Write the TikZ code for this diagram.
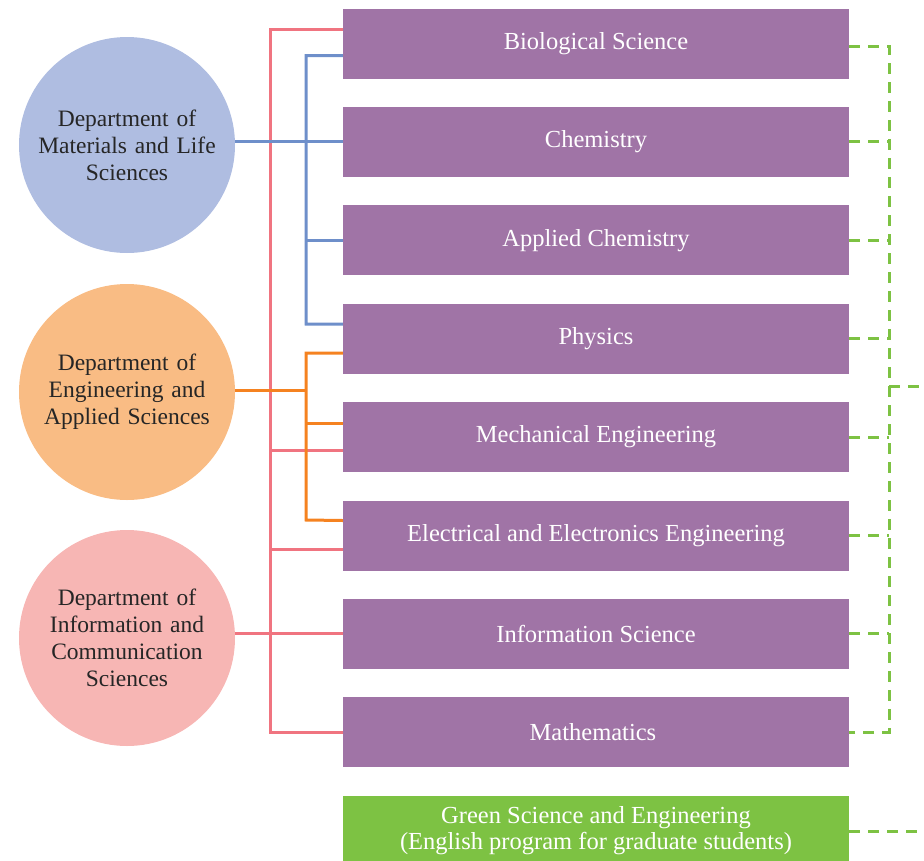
\documentclass[tikz,border=0pt]{standalone}
\usepackage{fontspec}
\setmainfont{Liberation Serif}
\definecolor{boxpurple}{HTML}{A074A6}
\definecolor{boxgreen}{HTML}{7DC243}
\definecolor{circblue}{HTML}{AFBDE1}
\definecolor{circorange}{HTML}{F9BC84}
\definecolor{circpink}{HTML}{F7B6B4}
\definecolor{lineblue}{HTML}{6E8FCA}
\definecolor{lineorange}{HTML}{F58220}
\definecolor{linepink}{HTML}{F07480}
\tikzset{
  deptbox/.style={fill=boxpurple, text=white, minimum width=506pt, minimum height=70pt,
    inner sep=0pt, font=\fontsize{24.5}{26}\selectfont, align=center},
  faculty/.style={circle, minimum size=216pt, inner sep=0pt, text width=184pt,
    align=center, text=black!85, font=\fontsize{23.5}{27}\selectfont},
  conn/.style={line width=3pt},
  greendash/.style={line width=3pt, boxgreen, dash pattern=on 11pt off 8pt}
}
\begin{document}
\begin{tikzpicture}[x=1pt, y=-1pt]
        \useasboundingbox (0,0) rectangle (924,860);

        % Abteilungen
        \foreach \i/\name/\txt in {
            0/bio/Biological Science,
            1/chem/Chemistry,
            2/achem/Applied Chemistry,
            3/phys/Physics,
            4/mech/Mechanical Engineering,
            5/elec/Electrical and Electronics Engineering,
            6/info/Information Science,
            7/math/Mathematics
            } {
            \node[deptbox] (\name) at (596, 43.5+98.4*\i) {\txt};
        }
        \node[deptbox, fill=boxgreen] (green) at (596, 831)
            {Green Science and Engineering\\(English program for graduate students)};

        % Fakultaeten
        \node[faculty, fill=circblue] (matsci) at (127, 145)
            {Department of\\Materials and Life\\Sciences};
        \node[faculty, fill=circorange] (engsci) at (127, 392)
            {Department of\\Engineering and\\Applied Sciences};
        \node[faculty, fill=circpink] (infsci) at (127, 638)
            {Department of\\Information and\\Communication\\Sciences};

        \coordinate (pinkbus) at (270, 0);
        \coordinate (colbus) at (306, 0);
        \coordinate (greenbus) at (889, 0);
        \coordinate (outlet) at (924, 386);

        % rot
        \draw[conn, linepink] ([yshift=14pt]bio.west) -| (pinkbus |- math.west) -- (math.west);
        \draw[conn, linepink] ([yshift=-13.5pt]mech.west -| pinkbus) -- ([yshift=-13.5pt]mech.west);
        \draw[conn, linepink] ([yshift=-14pt]elec.west -| pinkbus) -- ([yshift=-14pt]elec.west);
        \draw[conn, linepink] (infsci.east |- info.west) -- (info.west);

        % blau
        \draw[conn, lineblue] ([yshift=-12pt]bio.west) -| (colbus |- 0,324) -- ([yshift=14.5pt]phys.west);
        \draw[conn, lineblue] (matsci.east |- chem.west) -- (chem.west);
        \draw[conn, lineblue] (achem.west -| colbus) -- (achem.west);

        % orange
        \draw[conn, lineorange] ([yshift=-14.5pt]phys.west) -| (colbus |- 0,520) -- ([yshift=15pt]elec.west);
        \draw[conn, lineorange] (engsci.east |- 0,390) -- (colbus |- 0,390);
        \draw[conn, lineorange] ([yshift=13.5pt]mech.west -| colbus) -- ([yshift=13.5pt]mech.west);

        % gruen gestrichelt
        \draw[greendash] ([yshift=-2.5pt]bio.east) -| (greenbus |- math.east) -- (math.east);
        \foreach \n in {chem, achem, phys, mech, elec, info} {
            \draw[greendash] (\n.east) -- (\n.east -| greenbus);
        }
        \draw[greendash] (outlet -| greenbus) -- (outlet);
        \draw[greendash] (green.east) -- (green.east -| outlet);
\end{tikzpicture}
\end{document}
